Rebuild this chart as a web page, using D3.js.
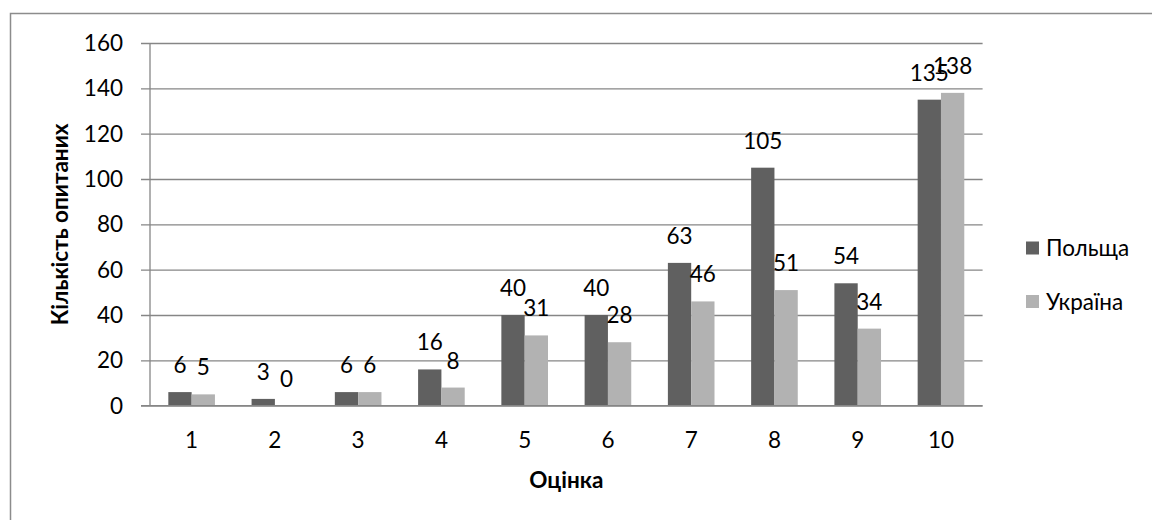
<!DOCTYPE html>
<html><head><meta charset="utf-8">
<script src="https://cdn.jsdelivr.net/npm/d3@7"></script>
<style>
html,body{margin:0;padding:0;background:#fff;}
text{font-family:Lato,"Open Sans",sans-serif;fill:#000;}
</style></head>
<body>
<svg id="chart" width="1152" height="520"></svg>
<script>
const categories = ["1","2","3","4","5","6","7","8","9","10"];
const seriesNames = ["Польща","Україна"];
const poland = [6,3,6,16,40,40,63,105,54,135];
const ukraine = [5,0,6,8,31,28,46,51,34,138];
const yTicks = [0,20,40,60,80,100,120,140,160];
const colors = ["#606060","#b2b2b2"];
const yTitle = "Кількість опитаних";
const xTitle = "Оцінка";

(function(){
const svg = d3.select("#chart");
const pL = 150, pR = 982.6, pT = 43, pB = 405.7;
const fs = 22.5;

svg.append("rect").attr("x",10.5).attr("y",13.5).attr("width",1200).attr("height",600)
  .attr("fill","none").attr("stroke","#8c8c8c").attr("stroke-width",1.5);

const y = d3.scaleLinear().domain([0,160]).range([pB, pT]);
const x0 = d3.scaleBand().domain(categories).range([pL,pR]).paddingInner(0.44).paddingOuter(0.22);
const x1 = d3.scaleBand().domain(seriesNames).range([0,x0.bandwidth()]);

const yAxis = d3.axisLeft(y).tickValues(yTicks).tickSize(-(pR-pL)).tickPadding(0).tickFormat("");
const gy = svg.append("g").attr("transform",`translate(${pL},0)`).call(yAxis);
gy.select(".domain").remove();
gy.selectAll(".tick line").attr("x1",-9).attr("stroke","#868686").attr("stroke-width",1.3);
svg.append("g").selectAll("text").data(yTicks).join("text")
  .attr("x",123).attr("y",d=>y(d)).attr("dy","0.36em").attr("text-anchor","end")
  .attr("font-size",fs).text(d=>d);
svg.append("line").attr("x1",pL).attr("x2",pL).attr("y1",pT).attr("y2",pB)
  .attr("stroke","#868686").attr("stroke-width",1.3);

const data = categories.map((c,i)=>({cat:c, vals:[{s:seriesNames[0],v:poland[i],c:colors[0]},{s:seriesNames[1],v:ukraine[i],c:colors[1]}]}));

const groups = svg.append("g").selectAll("g").data(data).join("g")
  .attr("transform",d=>`translate(${x0(d.cat)},0)`);
groups.selectAll("rect").data(d=>d.vals).join("rect")
  .attr("x",d=>x1(d.s)).attr("width",x1.bandwidth())
  .attr("y",d=>y(d.v)).attr("height",d=>pB-y(d.v)).attr("fill",d=>d.c);
groups.selectAll("text").data(d=>d.vals).join("text")
  .attr("x",d=>x1(d.s)+x1.bandwidth()/2).attr("y",d=>y(d.v)-19)
  .attr("text-anchor","middle").attr("font-size",fs).text(d=>d.v);

svg.append("line").attr("x1",pL-9).attr("x2",pR).attr("y1",pB).attr("y2",pB)
  .attr("stroke","#868686").attr("stroke-width",1.3);

svg.append("g").selectAll("text").data(categories).join("text")
  .attr("x",d=>x0(d)+x0.bandwidth()/2).attr("y",448).attr("text-anchor","middle")
  .attr("font-size",fs).text(d=>d);

svg.append("text").attr("x",(pL+pR)/2).attr("y",488).attr("text-anchor","middle")
  .attr("font-size",fs).attr("font-weight","bold").text(xTitle);
svg.append("text").attr("transform",`translate(68,${(pT+pB)/2}) rotate(-90)`)
  .attr("text-anchor","middle").attr("font-size",fs).attr("font-weight","bold").text(yTitle);

const leg = svg.append("g").selectAll("g").data(seriesNames).join("g")
  .attr("transform",(d,i)=>`translate(1026,${248+i*53.5})`);
leg.append("rect").attr("x",0).attr("y",-6.5).attr("width",13).attr("height",13).attr("fill",(d,i)=>colors[i]);
leg.append("text").attr("x",20).attr("y",0).attr("dy","0.36em").attr("font-size",fs).text(d=>d);
})();
</script>
</body></html>
